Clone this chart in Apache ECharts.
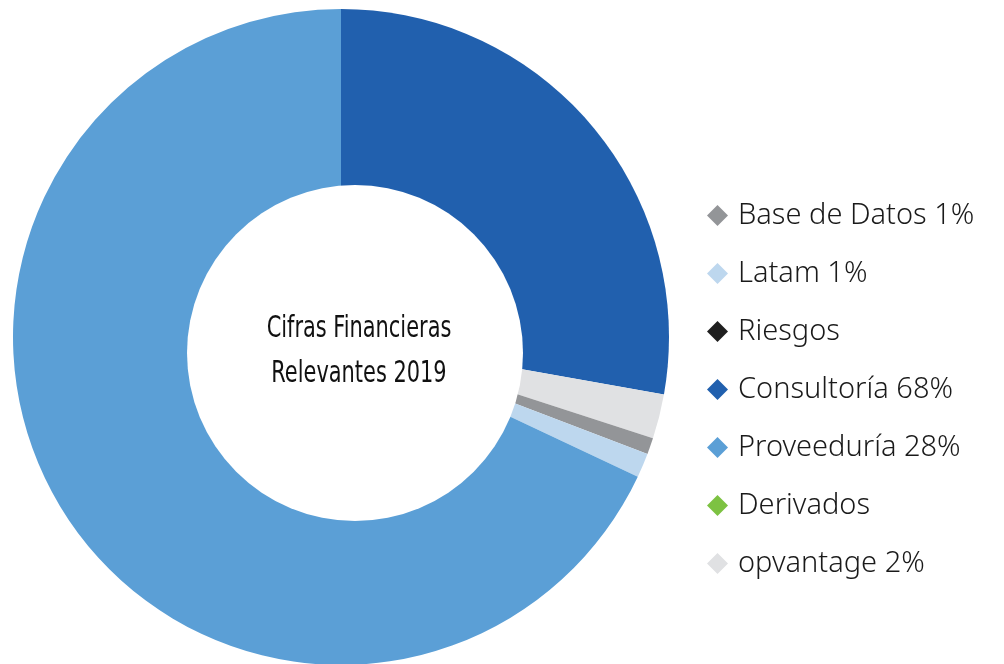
<!DOCTYPE html>
<html><head><meta charset="utf-8">
<script src="https://cdn.jsdelivr.net/npm/echarts@6/dist/echarts.min.js"></script>
<style>html,body{margin:0;padding:0;background:#fff}#c{width:1004px;height:664px}</style>
</head><body><div id="c"></div>
<script>
// slice order clockwise from 12 o'clock
const categories = ['Consultoría 68%', 'opvantage 2%', 'Base de Datos 1%', 'Latam 1%', 'Proveeduría 28%', 'Riesgos', 'Derivados'];
const values = [27.8, 2.2, 0.8, 1.2, 68.0, 0, 0];
const colors = ['#2160ae', '#e0e1e3', '#939598', '#bdd7ee', '#5b9fd6', '#1f1f1f', '#7dc242'];
const legendOrder = ['Base de Datos 1%', 'Latam 1%', 'Riesgos', 'Consultoría 68%', 'Proveeduría 28%', 'Derivados', 'opvantage 2%'];
const centerLines = ['Cifras Financieras', 'Relevantes 2019'];

const chart = echarts.init(document.getElementById('c'));
chart.setOption({
  animation: false,
  legend: {
    orient: 'vertical', left: 702, top: 196,
    itemWidth: 21, itemHeight: 21, itemGap: 29,
    icon: 'diamond',
    data: legendOrder,
    textStyle: { fontFamily: 'Noto Sans', fontWeight: 300, fontSize: 29, color: '#1a1a1a', padding: [0, 0, 0, 5] }
  },
  graphic: [{
    type: 'circle', z: 100, silent: true,
    shape: { cx: 355, cy: 353, r: 168 },
    style: { fill: '#ffffff' }
  }, {
    type: 'text', z: 101, x: 359, y: 351, scaleX: 0.75,
    style: {
      text: centerLines.join('\n'), fill: '#111', fontFamily: 'Liberation Sans Narrow, DejaVu Sans Condensed, sans-serif',
      fontSize: 31, lineHeight: 45, align: 'center', verticalAlign: 'middle'
    }
  }],
  series: [{
    type: 'pie', center: [341, 337], radius: [0, 328], startAngle: 90, clockwise: true,
    label: { show: false }, labelLine: { show: false }, silent: true,
    data: categories.map((n, i) => ({ name: n, value: values[i], itemStyle: { color: colors[i] } }))
  }]
});
</script></body></html>
